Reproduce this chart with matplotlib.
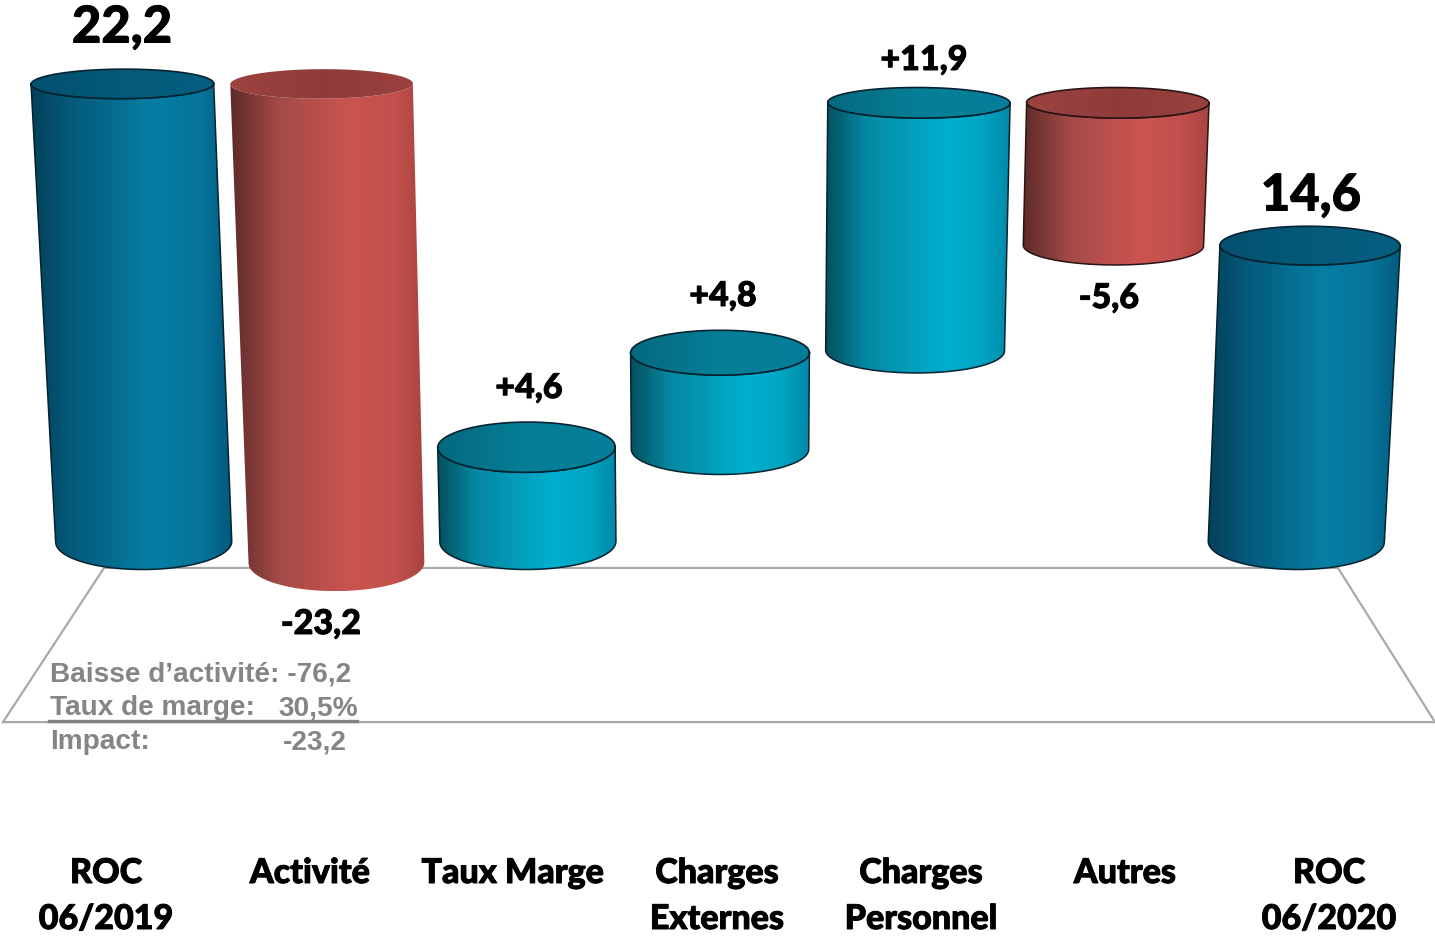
import numpy as np
import matplotlib.pyplot as plt
import matplotlib.patheffects as pe
from matplotlib.colors import LinearSegmentedColormap
from matplotlib.path import Path
from matplotlib.patches import PathPatch

W, H = 1435, 938

# levels (bottom / top of every cylinder)
categories = ["ROC\n06/2019", "Activité", "Taux Marge", "Charges\nExternes",
              "Charges\nPersonnel", "Autres", "ROC\n06/2020"]
bottoms = [0.3, -0.7, 0.3, 4.7, 9.4, 14.4, 0.3]
tops = [22.1, 22.1, 4.8, 9.3, 21.2, 21.2, 14.4]
value_labels = ["22,2", "-23,2", "+4,6", "+4,8", "+11,9", "-5,6", "14,6"]
kinds = ["blue", "red", "teal", "teal", "teal", "red", "blue"]

# pixel placement of the value labels and categories
label_x = [122, 321, 529, 723, 924, 1109, 1311]
label_y = [28, 624, 388, 296, 60, 298, 196]
label_size = [36.5, 24.5, 24.5, 24.5, 24.5, 24.5, 36.5]
cat_x = [106, 310, 513, 717, 921, 1125, 1329]

gradients = {
    "blue": [(0, "#03415a"), (0.2, "#04597a"), (0.6, "#067fa4"), (0.85, "#05739a"), (1, "#025a7c")],
    "red": [(0, "#5e2a2a"), (0.25, "#a34a47"), (0.62, "#cb5450"), (0.85, "#c2504c"), (1, "#a84440")],
    "teal": [(0, "#03505f"), (0.22, "#0589a3"), (0.65, "#00afce"), (0.85, "#00a4c2"), (1, "#0088a8")],
}
top_grad = {
    "blue": ["#03506f", "#045a7a", "#045f80"],
    "red": ["#9c4341", "#8e3c3a", "#9a413f"],
    "teal": ["#04697f", "#057f97", "#057f9a"],
}

# projection of the fake 3D: value units -> 21 px, one column -> 192 px
px_per_value = 21.0
px_per_col = 192.0
radius = 88.0 / px_per_col


def spread(v):
    return 1 + 0.0017 * v


def half_height(v):
    return (28 - 0.6 * v) / px_per_value


def ring(i, v, ang):
    off = np.cos(ang) * radius
    x = 3 + (i - 3 + off) * spread(v)
    slope = np.sign(i - 3) * 0.04
    y = v + half_height(v) * np.sin(ang) - slope * off
    return x, y


fig = plt.figure(figsize=(W / 100, H / 100), dpi=100)
ax = fig.add_axes([0, 0, 1, 1])

xlim = (3 - 720 / px_per_col, 3 + (W - 720) / px_per_col)
ylim = ((548 - H) / px_per_value, 548 / px_per_value)

# floor
floor_x = [3 + (p - 720) / px_per_col for p in (104, 1338, 1435, 3, 104)]
floor_y = [-0.95, -0.95, -8.29, -8.29, -0.95]
ax.plot(floor_x, floor_y, color="#a9a9a9", lw=1.6, solid_joinstyle="miter", zorder=1)

for i in range(len(categories)):
    cmap = LinearSegmentedColormap.from_list("c", gradients[kinds[i]])
    cmap_top = LinearSegmentedColormap.from_list("t", top_grad[kinds[i]])
    edge = None if i == 1 else ("#2a1414" if kinds[i] == "red" else "#04222f")

    # body: top front edge, right side, bottom front edge, left side
    a = np.linspace(np.pi, 2 * np.pi, 60)
    tx, ty = ring(i, tops[i], a)
    bx, by = ring(i, bottoms[i], a[::-1])
    body_x = np.r_[tx, bx, tx[0]]
    body_y = np.r_[ty, by, ty[0]]
    body = Path(np.c_[body_x, body_y])
    x0, x1 = body_x.min(), body_x.max()
    z = 3 + i * 0.1
    im = ax.imshow(np.linspace(0, 1, 256)[None, :], cmap=cmap, aspect="auto",
                   extent=[x0, x1, body_y.min(), body_y.max()], zorder=z)
    im.set_clip_path(PathPatch(body, transform=ax.transData))
    if edge:
        ax.plot(body_x, body_y, color=edge, lw=1.1, zorder=z + 0.01)

    # top ellipse
    a = np.linspace(0, 2 * np.pi, 120)
    ex, ey = ring(i, tops[i], a)
    lid = Path(np.c_[ex, ey])
    im = ax.imshow(np.linspace(0, 1, 256)[None, :], cmap=cmap_top, aspect="auto",
                   extent=[ex.min(), ex.max(), ey.min(), ey.max()], zorder=z + 0.02)
    im.set_clip_path(PathPatch(lid, transform=ax.transData))
    if edge:
        ax.plot(ex, ey, color=edge, lw=1.2, zorder=z + 0.03)

ax.set_xlim(*xlim)
ax.set_ylim(*ylim)
ax.axis("off")


def put(px, py, s, **kw):
    fig.text(px / W, 1 - py / H, s, **kw)


thick = [pe.withStroke(linewidth=0.7, foreground="black")]
for i in range(len(categories)):
    put(label_x[i], label_y[i], value_labels[i], family="Lato", weight="black",
        fontsize=label_size[i], ha="center", va="center", color="black", path_effects=thick)
    put(cat_x[i], 873, categories[i].split("\n")[0], family="Lato", weight="black",
        fontsize=24.5, ha="center", va="center", color="black", path_effects=thick)
    if "\n" in categories[i]:
        put(cat_x[i], 919, categories[i].split("\n")[1], family="Lato", weight="black",
            fontsize=24.5, ha="center", va="center", color="black", path_effects=thick)

grey = dict(family="Liberation Sans", weight="bold", fontsize=20.2, color="#858585",
            ha="left", va="center")
put(50, 675, "Baisse d’activité: -76,2", **grey)
put(50, 708, "Taux de marge:", **grey)
put(278, 708, "30,5%", **grey)
put(50, 742, "Impact:", **grey)
put(283, 742, "-23,2", **grey)
fig.add_artist(plt.Line2D([49 / W, 357 / W], [1 - 720.5 / H, 1 - 720.5 / H],
                          color="#808080", lw=2.4))

plt.savefig("out.png", dpi=100)
